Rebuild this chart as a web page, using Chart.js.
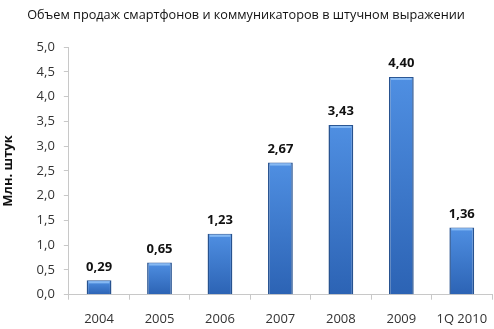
<!DOCTYPE html>
<html>
<head>
<meta charset="utf-8">
<script src="https://cdn.jsdelivr.net/npm/chart.js@4"></script>
<style>
  html, body { margin: 0; padding: 0; background: #fff; }
  #wrap { width: 494px; height: 329px; position: relative; }
</style>
</head>
<body>
<div id="wrap"><canvas id="salesChart"></canvas></div>
<script>
// ===== SMARTPHONE SALES CHART =====

const CATEGORIES = ['2004', '2005', '2006', '2007', '2008', '2009', '1Q 2010'];
const SALES = [0.29, 0.65, 1.23, 2.67, 3.43, 4.40, 1.36];
const Y_TICKS = [0, 0.5, 1, 1.5, 2, 2.5, 3, 3.5, 4, 4.5, 5];

const TITLE = 'Объем продаж смартфонов и коммуникаторов в штучном выражении';
const Y_TITLE = 'Млн. штук';
const BAR_PCT = 0.41;

const fmt = v => v.toFixed(2).replace('.', ',');

// value labels above each bar + thin highlight on bar tops
const barLabels = {
  id: 'barLabels',
  afterDatasetsDraw(chart) {
    const ctx = chart.ctx;
    const meta = chart.getDatasetMeta(0);
    ctx.save();
    meta.data.forEach(bar => {
      ctx.fillStyle = 'rgba(140,190,245,0.9)';
      ctx.fillRect(bar.x - bar.width / 2 + 2, bar.y + 1, bar.width - 4, 2);
    });
    ctx.font = 'bold 13px "Open Sans", sans-serif';
    ctx.fillStyle = '#111';
    ctx.textAlign = 'center';
    ctx.textBaseline = 'bottom';
    meta.data.forEach((bar, i) => {
      ctx.fillText(fmt(SALES[i]), bar.x, bar.y - 7);
    });
    ctx.restore();
  }
};

function barFill(context) {
  const chart = context.chart;
  const yScale = chart.scales.y;
  if (!chart.chartArea || !yScale || context.dataIndex === undefined) return '#3f7ccc';
  const top = yScale.getPixelForValue(SALES[context.dataIndex]);
  const bottom = yScale.getPixelForValue(0);
  if (!Number.isFinite(top) || !Number.isFinite(bottom)) return '#3f7ccc';
  const g = chart.ctx.createLinearGradient(0, top, 0, bottom);
  g.addColorStop(0, '#4f8fe2');
  g.addColorStop(1, '#2c63b4');
  return g;
}

const ctx = document.getElementById('salesChart').getContext('2d');
new Chart(ctx, {
  type: 'bar',
  data: {
    labels: CATEGORIES,
    datasets: [{
      data: SALES,
      backgroundColor: barFill,
      borderColor: '#27528f',
      borderWidth: { left: 1.5, right: 1.5, top: 1, bottom: 0 },
      categoryPercentage: 1,
      barPercentage: BAR_PCT
    }]
  },
  plugins: [barLabels],
  options: {
    responsive: true,
    maintainAspectRatio: false,
    animation: false,
    layout: { padding: { left: 0, right: 2, top: 8, bottom: -10 } },
    plugins: {
      legend: { display: false },
      tooltip: { enabled: false },
      title: {
        display: true,
        text: TITLE,
        color: '#111',
        font: { size: 12.7, family: '"Open Sans", sans-serif', weight: 'normal' },
        padding: { top: 0, bottom: 24 }
      }
    },
    scales: {
      x: {
        grid: { display: true, drawOnChartArea: false, offset: true, color: '#c8c8c8', tickLength: 5 },
        border: { color: '#c8c8c8' },
        ticks: { color: '#333', font: { size: 13, lineHeight: 2.1, family: '"Open Sans", sans-serif' }, padding: 6 }
      },
      y: {
        min: 0,
        max: 5,
        afterBuildTicks: axis => { axis.ticks = Y_TICKS.map(v => ({ value: v })); },
        grid: { display: true, drawOnChartArea: false, color: '#c8c8c8', tickLength: 5 },
        border: { color: '#c8c8c8' },
        ticks: {
          color: '#333',
          font: { size: 13, family: '"Open Sans", sans-serif' },
          padding: 9,
          callback: v => v.toFixed(1).replace('.', ',')
        },
        title: {
          display: true,
          text: Y_TITLE,
          color: '#111',
          font: { size: 13, weight: 'bold', family: '"Open Sans", sans-serif' },
          padding: { top: 0, bottom: 12 }
        }
      }
    }
  }
});
</script>
</body>
</html>
